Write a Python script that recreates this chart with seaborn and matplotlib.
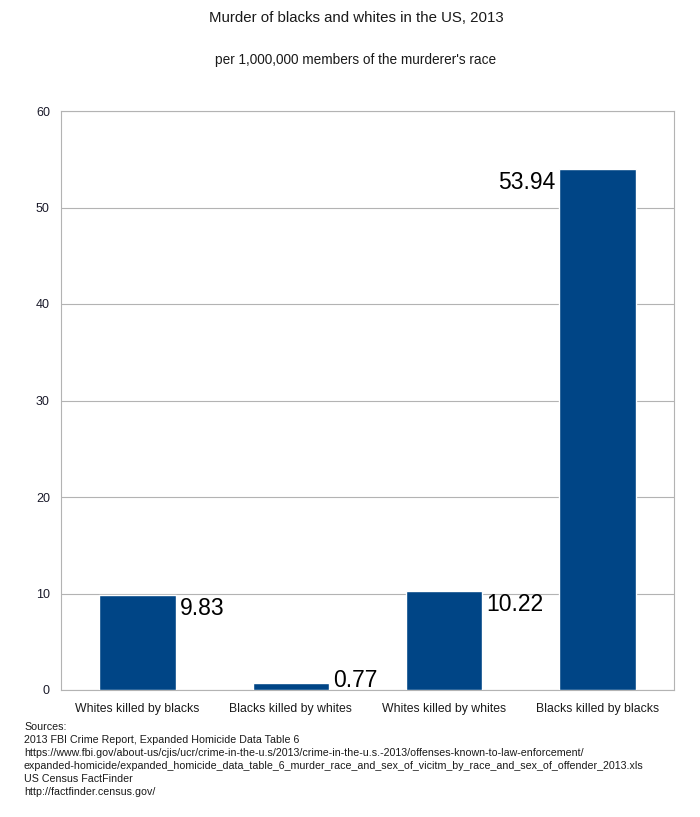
import matplotlib
matplotlib.use("Agg")
import matplotlib.pyplot as plt
import seaborn as sns
import pandas as pd
import numpy as np

categories = ["Whites killed by blacks", "Blacks killed by whites",
              "Whites killed by whites", "Blacks killed by blacks"]
values = [9.83, 0.77, 10.22, 53.94]
value_labels = ["9.83", "0.77", "10.22", "53.94"]
yticks = [0, 10, 20, 30, 40, 50, 60]

title = "Murder of blacks and whites in the US, 2013"
subtitle = "per 1,000,000 members of the murderer's race"
sources = [
    "Sources:",
    "2013 FBI Crime Report, Expanded Homicide Data Table 6",
    "https://www.fbi.gov/about-us/cjis/ucr/crime-in-the-u.s/2013/crime-in-the-u.s.-2013/offenses-known-to-law-enforcement/",
    "expanded-homicide/expanded_homicide_data_table_6_murder_race_and_sex_of_vicitm_by_race_and_sex_of_offender_2013.xls",
    "US Census FactFinder",
    "http://factfinder.census.gov/",
]

sns.set_theme(style="white")
plt.rcParams['font.family'] = ['Liberation Sans', 'DejaVu Sans']

df = pd.DataFrame({"category": categories, "value": values})

fig = plt.figure(figsize=(7, 8.17), dpi=100)
ax = fig.add_axes([61/700, 1-690/817, (674-61)/700, (690-111)/817])

sns.barplot(data=df, x="category", y="value", color="#004586", saturation=1,
            width=0.5, ax=ax, zorder=3)

ax.set_ylim(0, 60)
ax.set_xlim(-0.5, len(categories)-0.5)
ax.set_yticks(yticks)
ax.set_yticklabels([str(t) for t in yticks], fontsize=9, color="#1a1a2a")
ax.yaxis.grid(True, color="#b3b3b3", linewidth=0.8, zorder=0)
ax.set_xlabel("")
ax.set_ylabel("")
ax.tick_params(axis="x", length=0, labelsize=8.8, pad=9.5, colors="#1a1a1a")
ax.set_xticks(np.arange(-0.5, len(categories), 1.0), minor=True)
ax.tick_params(axis="x", which="minor", length=5, width=0.8, color="#b3b3b3", direction="out")
ax.tick_params(axis="y", length=5, width=0.8, color="#b3b3b3", direction="out", pad=3)
for s in ax.spines.values():
    s.set_visible(True)
    s.set_color("#b3b3b3")
    s.set_linewidth(0.8)

# value labels
for i, (v, lab) in enumerate(zip(values, value_labels)):
    if i == len(values) - 1:
        ax.annotate(lab, xy=(i - 0.25, v), xytext=(-2.5, -9.5), textcoords="offset points",
                    ha="right", va="center", fontsize=16.5, color="#000000")
    elif v < 2:
        ax.annotate(lab, xy=(i + 0.25, 0), xytext=(2.5, -1.5), textcoords="offset points",
                    ha="left", va="bottom", fontsize=16.5, color="#000000")
    else:
        ax.annotate(lab, xy=(i + 0.25, v), xytext=(2.5, -9.5), textcoords="offset points",
                    ha="left", va="center", fontsize=16.5, color="#000000")

fig.text(356/700, 1-18/817, title, ha="center", va="center", fontsize=10.8, color="#1a1a1a")
fig.text(356/700, 1-60/817, subtitle, ha="center", va="center", fontsize=9.8, color="#1a1a1a")

for k, line in enumerate(sources):
    fig.text(24/700, 1-(727 + 13*k)/817, line, ha="left", va="center", fontsize=7.7, color="#1a1a1a")

fig.savefig("out.png", dpi=100)
